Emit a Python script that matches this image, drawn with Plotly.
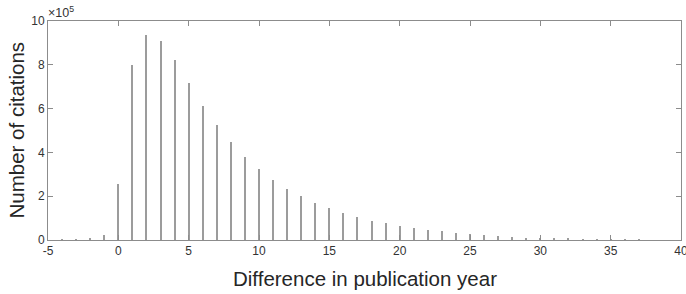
import plotly.graph_objects as go

years = list(range(-5, 38))
citations = [0, 1500, 3500, 8000, 24000,
             258000, 797000, 938000, 909000, 822000, 715000, 613000, 524000, 446000, 378000,
             323000, 275000, 235000, 200000, 171000, 144000, 123000, 103000, 88000, 76000,
             64000, 55000, 47000, 39000, 32000, 29000, 21000, 17000, 14000, 11000,
             8000, 6000, 5000, 4000, 3000, 2000, 1500, 1000]
ytick_vals = [0, 200000, 400000, 600000, 800000, 1000000]
ytick_text = ["0", "2", "4", "6", "8", "10"]
xtick_vals = [-5, 0, 5, 10, 15, 20, 25, 30, 35, 40]
xtick_text = ["-5", "0", "5", "10", "15", "20", "25", "30", "35", "40"]

FONT = "Liberation Sans, Arial, Helvetica"

fig = go.Figure()
fig.add_trace(go.Bar(x=years, y=citations, width=0.075,
                     marker=dict(color="#9c9c9c", line=dict(width=0))))

axis_common = dict(showline=True, linecolor="#8c8c8c", linewidth=1, mirror="ticks",
                   ticks="inside", ticklen=5, tickcolor="#8c8c8c", showgrid=False,
                   zeroline=False, automargin=False, ticklabeloverflow="allow",
                   tickfont=dict(family=FONT, size=12, color="#333333"))

fig.update_layout(
    width=686, height=294,
    margin=dict(l=48, r=5, t=21, b=54),
    plot_bgcolor="white", paper_bgcolor="white",
    showlegend=False,
    bargap=0,
    xaxis=dict(range=[-5, 40], tickvals=xtick_vals, ticktext=xtick_text, **axis_common),
    yaxis=dict(range=[0, 1000000], tickvals=ytick_vals, ticktext=ytick_text, **axis_common),
)
fig.add_annotation(text="Difference in publication year", xref="paper", yref="paper",
                   x=0.5, y=0, yshift=-38, xanchor="center", yanchor="middle", showarrow=False,
                   font=dict(family=FONT, size=20.5, color="#262626"))
fig.add_annotation(text="Number of citations", xref="paper", yref="paper",
                   x=0, y=0.5, xshift=-32, xanchor="center", yanchor="middle", showarrow=False,
                   textangle=-90, font=dict(family=FONT, size=20.5, color="#262626"))
fig.add_annotation(text="×10<sup>5</sup>", xref="paper", yref="paper", x=0, y=1,
                   xanchor="left", yanchor="bottom", showarrow=False, yshift=-1, xshift=-2,
                   font=dict(family=FONT, size=12.5, color="#333333"))
fig.write_html("out.html", config={"displayModeBar": False},
               post_script="document.body.style.margin='0';")
